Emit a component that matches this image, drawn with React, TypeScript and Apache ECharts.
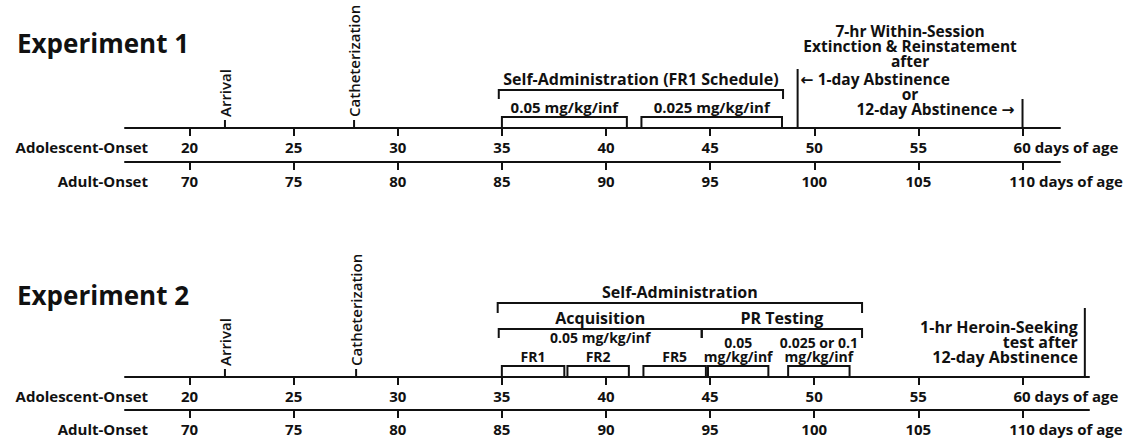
import React, { useEffect, useRef } from 'react';
import * as echarts from 'echarts';

// ---------- data ----------
const experimentTitles = ['Experiment 1', 'Experiment 2'];
const rowNames = ['Adolescent-Onset', 'Adult-Onset'];
const adolescentTicks = [20, 25, 30, 35, 40, 45, 50, 55, 60];
const adultTicks = [70, 75, 80, 85, 90, 95, 100, 105, 110];
const adultOffset = 50;
const exp1DayRange = [16.9, 61.8];
const exp2DayRange = [16.9, 63.2];

const eventNames = ['Arrival', 'Catheterization'];
const exp1EventDays = [21.7, 27.9];
const exp2EventDays = [21.7, 28.0];

const exp1BracketLabels = ['Self-Administration (FR1 Schedule)', '0.05 mg/kg/inf', '0.025 mg/kg/inf'];
const exp1BracketStart = [34.85, 35.0, 41.7];
const exp1BracketEnd = [48.5, 41.0, 48.45];
const exp1BracketTier = [2, 1, 1];

const exp1MarkerDays = [49.2, 60];
const exp1MarkerLabels = ['\u2190 1-day Abstinence', '12-day Abstinence \u2192'];
const exp1TestHeader = ['7-hr Within-Session', 'Extinction & Reinstatement', 'after'];
const exp1Connector = 'or';

const exp2BracketLabels = ['Self-Administration', 'Acquisition', 'PR Testing', 'FR1', 'FR2', 'FR5', '0.05\nmg/kg/inf', '0.025 or 0.1\nmg/kg/inf'];
const exp2BracketSubLabels = ['', '0.05 mg/kg/inf', '', '', '', '', '', ''];
const exp2BracketStart = [34.8, 34.85, 44.6, 35.0, 38.15, 41.8, 44.9, 48.75];
const exp2BracketEnd = [52.3, 44.6, 52.3, 38.0, 41.1, 44.8, 47.8, 51.7];
const exp2BracketTier = [3, 2, 2, 1, 1, 1, 1, 1];

const exp2TestDays = [63.0];
const exp2TestLabels = ['1-hr Heroin-Seeking\ntest after\n12-day Abstinence'];

// ---------- style ----------
const FONT = '"Open Sans", "DejaVu Sans", sans-serif';
const INK = '#111111';
const LEFT = 125;
const W1 = 935;
const W2 = 964;

type Geom = { top: number; leg: number; font: number; lh: number; sub?: number };
const exp1Tiers: Record<number, Geom> = {
  1: { top: 11, leg: 0, font: 15, lh: 15 },
  2: { top: 38, leg: 29, font: 16, lh: 16 },
};
const exp2Tiers: Record<number, Geom> = {
  1: { top: 11, leg: 0, font: 14, lh: 14 },
  2: { top: 48, leg: 39, font: 16, lh: 16, sub: 39.5 },
  3: { top: 74, leg: 64, font: 16, lh: 16 },
};

function txt(text: string, x: number, y: number, size: number, align: string, vAlign: string, extra: any = {}) {
  const { weight, lh, ...rest } = extra;
  return {
    type: 'text',
    x,
    y,
    ...rest,
    style: {
      text,
      fill: INK,
      fontFamily: FONT,
      fontSize: size,
      fontWeight: weight || 'bold',
      align,
      verticalAlign: vAlign,
      lineHeight: lh || size,
    },
  };
}

function xAxis(gridIndex: number, range: number[], ticks: number[], name: string) {
  const last = ticks[ticks.length - 1];
  return {
    type: 'value',
    gridIndex,
    min: range[0],
    max: range[1],
    position: 'bottom',
    name,
    nameLocation: 'start',
    nameGap: -23,
    nameMoveOverlap: false,
    nameTextStyle: {
      fontFamily: FONT,
      fontSize: 15,
      fontWeight: 'bold',
      color: INK,
      align: 'right',
      verticalAlign: 'top',
      lineHeight: 38,
    },
    axisLine: { show: true, onZero: false, lineStyle: { color: INK, width: 2 } },
    axisTick: { show: true, customValues: ticks, length: 8, lineStyle: { color: INK, width: 2 } },
    axisLabel: {
      show: true,
      customValues: ticks,
      margin: 11,
      fontFamily: FONT,
      fontSize: 15,
      fontWeight: 'bold',
      color: INK,
      formatter: (v: number) => (v === last ? `{end|${v} days of age}` : String(v)),
      rich: {
        end: { fontFamily: FONT, fontSize: 15, fontWeight: 'bold', color: INK, padding: [0, 0, 0, 87] },
      },
    },
    splitLine: { show: false },
  };
}

function yAxis(gridIndex: number, height: number) {
  return { type: 'value', gridIndex, min: 0, max: height, show: false };
}

function bracketSeries(axisIndex: number, labels: string[], subs: string[] | null, starts: number[], ends: number[], tiers: number[], geom: Record<number, Geom>) {
  return {
    type: 'custom',
    xAxisIndex: axisIndex,
    yAxisIndex: axisIndex,
    silent: true,
    clip: false,
    data: starts.map((s, i) => [s, ends[i], i]),
    renderItem: (_p: any, api: any) => {
      const i = api.value(2) as number;
      const g = geom[tiers[i]];
      const [x1, yTop] = api.coord([api.value(0), g.top]);
      const [x2] = api.coord([api.value(1), g.top]);
      const yLeg = api.coord([api.value(0), g.leg])[1];
      const children: any[] = [
        {
          type: 'polyline',
          shape: { points: [[x1, yLeg], [x1, yTop], [x2, yTop], [x2, yLeg]] },
          style: { stroke: INK, lineWidth: 2, fill: null },
        },
        txt(labels[i], (x1 + x2) / 2, yTop - 3, g.font, 'center', 'bottom', { lh: g.lh }),
      ];
      if (subs && subs[i] && g.sub !== undefined) {
        const ys = api.coord([api.value(0), g.sub])[1];
        children.push(txt(subs[i], (x1 + x2) / 2, ys, 14, 'center', 'middle', { lh: 14 }));
      }
      return { type: 'group', children };
    },
  };
}

function eventSeries(axisIndex: number, days: number[]) {
  return {
    type: 'custom',
    xAxisIndex: axisIndex,
    yAxisIndex: axisIndex,
    silent: true,
    clip: false,
    data: days.map((d, i) => [d, i]),
    renderItem: (_p: any, api: any) => {
      const i = api.value(1) as number;
      const [x, y0] = api.coord([api.value(0), 0]);
      const y1 = api.coord([api.value(0), 8])[1];
      const y2 = api.coord([api.value(0), 11])[1];
      return {
        type: 'group',
        children: [
          { type: 'line', shape: { x1: x, y1: y0, x2: x, y2: y1 }, style: { stroke: INK, lineWidth: 2 } },
          txt(eventNames[i], x, y2, 15, 'left', 'middle', { rotation: Math.PI / 2, weight: 600 }),
        ],
      };
    },
  };
}

function exp1TestSeries() {
  const mid = (exp1MarkerDays[0] + exp1MarkerDays[1]) / 2;
  return {
    type: 'custom',
    xAxisIndex: 0,
    yAxisIndex: 0,
    silent: true,
    clip: false,
    data: [[exp1MarkerDays[0], exp1MarkerDays[1], mid]],
    renderItem: (_p: any, api: any) => {
      const [xa, y0] = api.coord([api.value(0), 0]);
      const [xb] = api.coord([api.value(1), 0]);
      const [xm] = api.coord([api.value(2), 0]);
      const Y = (h: number) => api.coord([api.value(0), h])[1];
      const o = { lh: 15 };
      const fs = 15.5;
      return {
        type: 'group',
        children: [
          { type: 'line', shape: { x1: xa, y1: y0, x2: xa, y2: Y(59) }, style: { stroke: INK, lineWidth: 2 } },
          { type: 'line', shape: { x1: xb, y1: y0, x2: xb, y2: Y(29) }, style: { stroke: INK, lineWidth: 2 } },
          txt(exp1TestHeader[0], xm, Y(97), fs, 'center', 'middle', o),
          txt(exp1TestHeader[1], xm, Y(82), fs, 'center', 'middle', o),
          txt(exp1TestHeader[2], xm, Y(67), fs, 'center', 'middle', o),
          txt(exp1MarkerLabels[0], xa + 3, Y(49), fs, 'left', 'middle', o),
          txt(exp1Connector, xm, Y(34), fs, 'center', 'middle', o),
          txt(exp1MarkerLabels[1], xb - 8, Y(19), fs, 'right', 'middle', o),
        ],
      };
    },
  };
}

function exp2TestSeries() {
  return {
    type: 'custom',
    xAxisIndex: 2,
    yAxisIndex: 2,
    silent: true,
    clip: false,
    data: exp2TestDays.map((d, i) => [d, i]),
    renderItem: (_p: any, api: any) => {
      const i = api.value(1) as number;
      const [x, y0] = api.coord([api.value(0), 0]);
      const Y = (h: number) => api.coord([api.value(0), h])[1];
      return {
        type: 'group',
        children: [
          { type: 'line', shape: { x1: x, y1: y0, x2: x, y2: Y(69) }, style: { stroke: INK, lineWidth: 2 } },
          txt(exp2TestLabels[i], x - 7, Y(12.5), 16, 'right', 'bottom', { lh: 15 }),
        ],
      };
    },
  };
}

export default function App() {
  const ref = useRef<HTMLDivElement>(null);
  useEffect(() => {
    if (!ref.current) return;
    const chart = echarts.init(ref.current, null, { renderer: 'svg' });
    const titleStyle = { fontFamily: FONT, fontSize: 26, fontWeight: 'bold', color: INK, lineHeight: 30 };
    chart.setOption({
      animation: false,
      backgroundColor: '#ffffff',
      textStyle: { fontFamily: FONT },
      title: [
        { text: experimentTitles[0], left: 17, top: 28, padding: 0, textStyle: titleStyle },
        { text: experimentTitles[1], left: 17, top: 280, padding: 0, textStyle: titleStyle },
      ],
      grid: [
        { left: LEFT, width: W1, top: 0, height: 128, containLabel: false, outerBoundsMode: 'none' },
        { left: LEFT, width: W1, top: 140, height: 22, containLabel: false, outerBoundsMode: 'none' },
        { left: LEFT, width: W2, top: 250, height: 127, containLabel: false, outerBoundsMode: 'none' },
        { left: LEFT, width: W2, top: 388, height: 22, containLabel: false, outerBoundsMode: 'none' },
      ],
      xAxis: [
        xAxis(0, exp1DayRange, adolescentTicks, rowNames[0]),
        xAxis(1, exp1DayRange.map((d) => d + adultOffset), adultTicks, rowNames[1]),
        xAxis(2, exp2DayRange, adolescentTicks, rowNames[0]),
        xAxis(3, exp2DayRange.map((d) => d + adultOffset), adultTicks, rowNames[1]),
      ],
      yAxis: [yAxis(0, 128), yAxis(1, 22), yAxis(2, 127), yAxis(3, 22)],
      series: [
        bracketSeries(0, exp1BracketLabels, null, exp1BracketStart, exp1BracketEnd, exp1BracketTier, exp1Tiers),
        eventSeries(0, exp1EventDays),
        exp1TestSeries(),
        bracketSeries(2, exp2BracketLabels, exp2BracketSubLabels, exp2BracketStart, exp2BracketEnd, exp2BracketTier, exp2Tiers),
        eventSeries(2, exp2EventDays),
        exp2TestSeries(),
      ],
    });
    return () => chart.dispose();
  }, []);
  return (
    <div
      ref={ref}
      style={{ position: 'absolute', left: 0, top: 0, width: 1128, height: 438, background: '#fff' }}
    />
  );
}
